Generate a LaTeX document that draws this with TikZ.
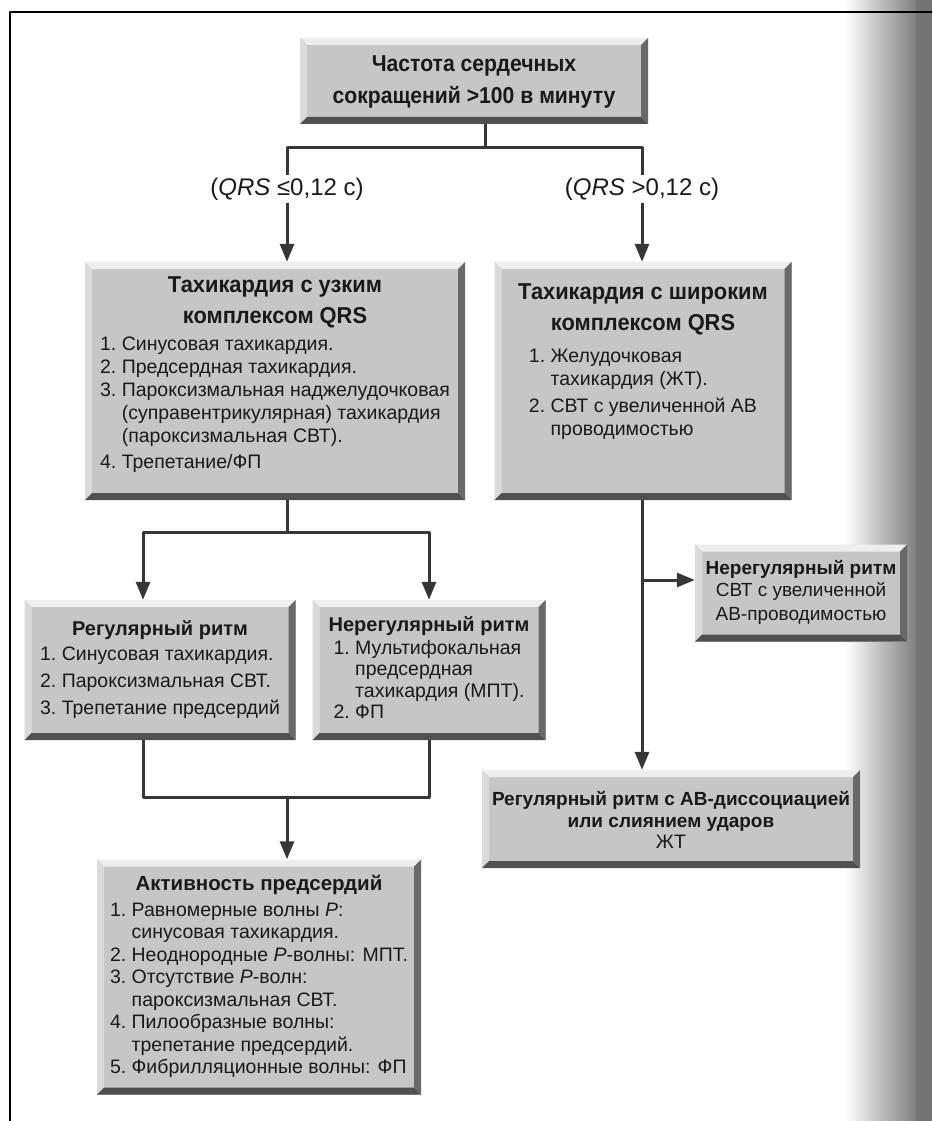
\documentclass[tikz,border=0pt]{standalone}
\usepackage{fontspec}
\usepackage{graphicx}
\setmainfont{Liberation Sans}
\usetikzlibrary{arrows.meta,calc}

% bold centred title block: [size][row stretch][x scale]{lines}
\NewDocumentCommand{\ttl}{O{20} O{1.2} O{1} m}{{\fontsize{#1}{#1}\selectfont\bfseries
  \renewcommand{\arraystretch}{#2}\scalebox{#3}[1]{\begin{tabular}{@{}c@{}}#4\end{tabular}}}}
% numbered list with hanging lines
\newenvironment{ecglist}{\begin{tabular}{@{}r@{\ }l@{}}}{\end{tabular}}

\begin{document}
\begin{tikzpicture}[
  x=1pt, y=-1pt, % pixel units, y grows downward
  line join=round,
  font={\fontsize{19.5}{23}\selectfont},
  bevelbox/.style={
    fill=boxgray, align=center, inner sep=0pt, text=inkblack,
    path picture={
      \coordinate (pnw) at (path picture bounding box.north west);
      \coordinate (pne) at (path picture bounding box.north east);
      \coordinate (psw) at (path picture bounding box.south west);
      \coordinate (pse) at (path picture bounding box.south east);
      \fill[bevlight] (pnw) -- (pne) -- ($(pne)+(-7,7)$) -- ($(pnw)+(7,7)$) -- cycle;
      \fill[bevmid] (pnw) -- (psw) -- ($(psw)+(7,-7)$) -- ($(pnw)+(7,7)$) -- cycle;
      \fill[bevdark] (psw) -- (pse) -- ($(pse)+(-7,-7)$) -- ($(psw)+(7,-7)$) -- cycle;
      \fill[bevshade] (pne) -- (pse) -- ($(pse)+(-7,-7)$) -- ($(pne)+(-7,7)$) -- cycle;
    }
  },
  conn/.style={draw=linegray, line width=3pt},
  arr/.style={conn, -{Triangle[length=18pt,width=14pt]}},
  qlabel/.style={font={\fontsize{24}{26}\selectfont}, text=inkblack, inner sep=3pt}
]
  % Colors
  \definecolor{boxgray}{RGB}{198,198,198}
  \definecolor{bevlight}{RGB}{238,238,238}
  \definecolor{bevmid}{RGB}{218,218,218}
  \definecolor{bevdark}{RGB}{80,80,80}
  \definecolor{bevshade}{RGB}{105,105,105}
  \definecolor{linegray}{RGB}{55,55,55}
  \definecolor{inkblack}{RGB}{25,25,25}

  % ---- page ----
  \useasboundingbox (0,0) rectangle (932,1121);
  \fill[white] (0,0) rectangle (932,1121);
  \shade[left color=white, right color=black!50] (845,0) rectangle (916,1121);
  \fill[black!55] (916,0) rectangle (932,1121);
  \draw[line width=2pt, black] (932,12) -- (10,12) -- (10,1121);

  % ---- boxes ----
  \node[bevelbox, minimum width=348pt, minimum height=86pt] (rate) at (474,81)
    {\ttl[23][1.42][0.92]{Частота сердечных\\сокращений >100 в минуту}};

  \node[qlabel] (qnarrow) at (287,189) {(\textit{QRS} ≤0,12 с)};
  \node[qlabel] (qwide) at (642,189) {(\textit{QRS} >0,12 с)};

  \node[bevelbox, minimum width=380pt, minimum height=238pt] (narrow) at (275,381)
    {\ttl[23][1.33][0.95]{Тахикардия с узким\\комплексом QRS}\\[1pt]
     \begin{ecglist}
       1. & Синусовая тахикардия.\\
       2. & Предсердная тахикардия.\\
       3. & Пароксизмальная наджелудочковая\\
          & (суправентрикулярная) тахикардия\\
          & (пароксизмальная СВТ).\\[3pt]
       4. & Трепетание/ФП
     \end{ecglist}\\[14pt]};

  \node[bevelbox, minimum width=297pt, minimum height=238pt] (wide) at (643,381)
    {\ttl[23][1.33][0.95]{Тахикардия с широким\\комплексом QRS}\\[6pt]
     \begin{ecglist}
       1. & Желудочковая\\
          & тахикардия (ЖТ).\\[4pt]
       2. & СВТ с увеличенной АВ\\
          & проводимостью
     \end{ecglist}\\[40pt]};

  \node[bevelbox, minimum width=271pt, minimum height=140pt] (regular) at (160,670)
    {\ttl[20]{Регулярный ритм}\\[1pt]
     \begin{ecglist}
       1. & Синусовая тахикардия.\\[4pt]
       2. & Пароксизмальная СВТ.\\[4pt]
       3. & Трепетание предсердий
     \end{ecglist}};

  \node[bevelbox, minimum width=233pt, minimum height=140pt,
        font={\fontsize{19.5}{21.5}\selectfont}] (irregular) at (429,670)
    {\ttl[20]{Нерегулярный ритм}\\[-1pt]
     \begin{ecglist}
       1. & Мультифокальная\\
          & предсердная\\
          & тахикардия (МПТ).\\
       2. & ФП
     \end{ecglist}};

  \node[bevelbox, minimum width=212pt, minimum height=97pt,
        font={\fontsize{19}{24}\selectfont}] (irrright) at (801,593)
    {\ttl[19]{Нерегулярный ритм}\\[-2pt]
     \begin{tabular}{@{}c@{}}СВТ с увеличенной\\АВ-проводимостью\end{tabular}};

  \node[bevelbox, minimum width=378pt, minimum height=98pt] (avdiss) at (671,819)
    {\ttl[19][1.15]{Регулярный ритм с АВ-диссоциацией\\или слиянием ударов}\\ЖТ};

  \node[bevelbox, minimum width=324pt, minimum height=235pt,
        font={\fontsize{19.5}{22.5}\selectfont}] (activity) at (259,977)
    {\ttl[20.5]{Активность предсердий}\\[1pt]
     \begin{ecglist}
       1. & Равномерные волны \textit{P}:\\
          & синусовая тахикардия.\\
       2. & Неоднородные \textit{P}-волны: МПТ.\\
       3. & Отсутствие \textit{P}-волн:\\
          & пароксизмальная СВТ.\\
       4. & Пилообразные волны:\\
          & трепетание предсердий.\\
       5. & Фибрилляционные волны: ФП
     \end{ecglist}};

  % ---- first split ----
  \draw[conn] (rate.south -| 485,0) -- ++(0,23) coordinate (split);
  \draw[conn] (qnarrow.north) |- (split) -| (qwide.north);
  \draw[arr] (qnarrow.south) -- (qnarrow.south |- narrow.north);
  \draw[arr] (qwide.south) -- (qwide.south |- wide.north);

  % ---- narrow QRS branch ----
  \draw[conn] (qnarrow |- narrow.south) -- ++(0,32) coordinate (split2);
  \draw[arr] (split2) -| ([xshift=-17pt]regular.north);
  \draw[arr] (split2) -| (irregular.north);

  % ---- join to atrial activity ----
  \draw[conn] ([xshift=-17pt]regular.south) -- ++(0,57) coordinate (joinl)
    -- (joinl -| irregular.south) -- (irregular.south);
  \draw[arr] (joinl -| qnarrow) -- (qnarrow |- activity.north);

  % ---- wide QRS branch ----
  \coordinate (irrin) at ([yshift=13pt]irrright.west);
  \draw[arr] (qwide |- wide.south) -- (qwide |- avdiss.north);
  \draw[arr] (irrin -| qwide) -- (irrin);

\end{tikzpicture}
\end{document}
